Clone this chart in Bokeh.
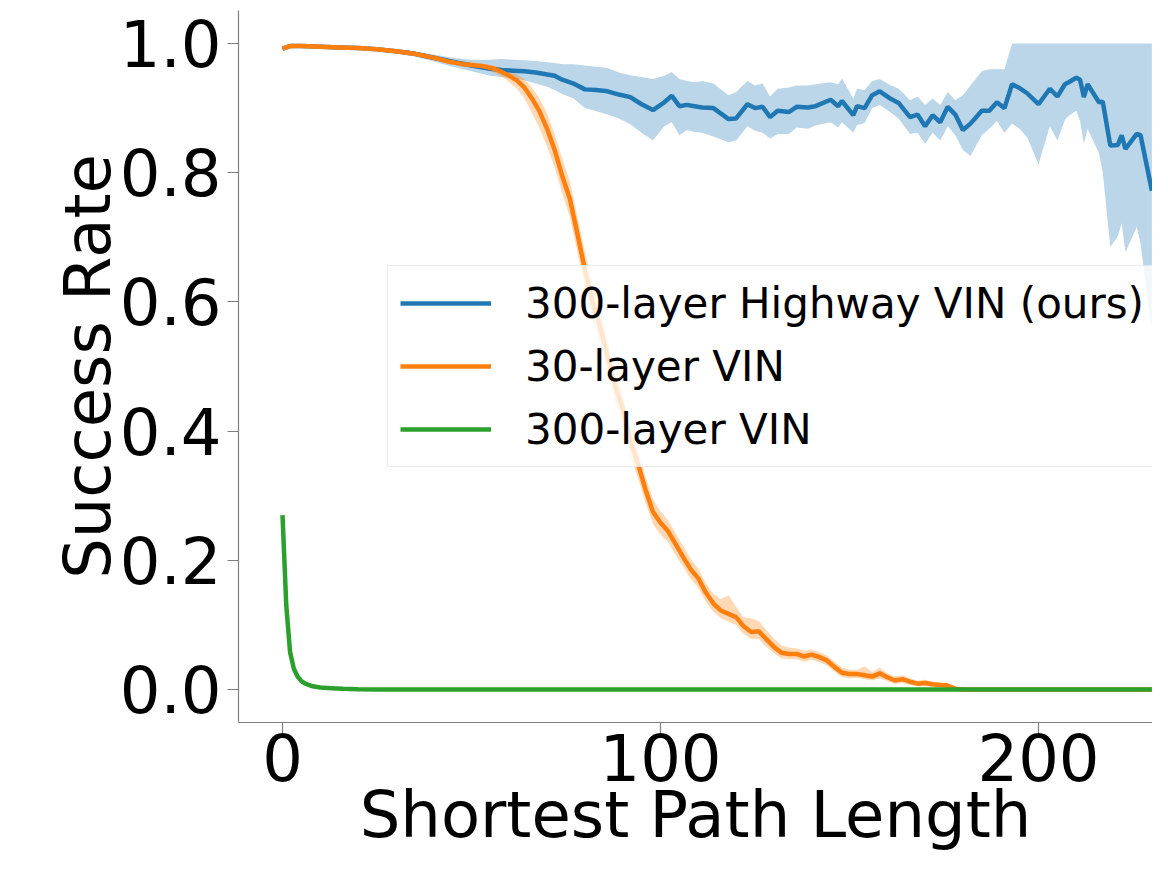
from bokeh.plotting import figure
from bokeh.models import Range1d, FixedTicker, Legend, LegendItem, PrintfTickFormatter
from bokeh.embed import file_html
from bokeh.resources import INLINE

# ---- data ----
blue_x = [0, 2, 5, 10, 15, 20, 25, 30, 35, 40, 45, 50, 55, 58, 61, 64, 67, 70, 72, 74,
          77, 80, 83, 86, 89, 92, 95, 98, 101, 103, 105, 107, 109, 111, 114, 118, 120, 123, 125, 127,
          129, 131, 134, 136, 139, 141, 145, 147, 148, 151, 152, 154, 156, 158, 161, 163, 166, 168, 170, 172,
          174, 176, 178, 180, 182, 185, 187, 189, 191, 193, 195, 197, 200, 203, 205, 207, 208, 210, 211, 212,
          213, 216, 217, 219, 221, 222, 223, 226, 227, 230]
blue_y = [0.992, 0.996, 0.996, 0.995, 0.994, 0.993, 0.991, 0.988, 0.984, 0.978, 0.972, 0.966, 0.961, 0.959, 0.958, 0.957, 0.955, 0.952, 0.950, 0.944,
          0.938, 0.929, 0.928, 0.926, 0.921, 0.917, 0.906, 0.897, 0.909, 0.919, 0.903, 0.905, 0.903, 0.901, 0.900, 0.883, 0.884, 0.906, 0.900, 0.902,
          0.886, 0.896, 0.894, 0.902, 0.901, 0.903, 0.913, 0.903, 0.911, 0.889, 0.903, 0.900, 0.920, 0.926, 0.914, 0.908, 0.886, 0.890, 0.872, 0.889,
          0.878, 0.902, 0.890, 0.866, 0.876, 0.896, 0.896, 0.909, 0.900, 0.937, 0.931, 0.923, 0.906, 0.930, 0.918, 0.937, 0.940, 0.947, 0.944, 0.917,
          0.937, 0.909, 0.910, 0.842, 0.843, 0.858, 0.837, 0.860, 0.858, 0.772]
blue_hi = [0.994, 0.998, 0.998, 0.997, 0.996, 0.995, 0.993, 0.991, 0.988, 0.983, 0.978, 0.975, 0.975, 0.976, 0.975, 0.974, 0.973, 0.971, 0.970, 0.968,
           0.968, 0.966, 0.964, 0.962, 0.955, 0.951, 0.948, 0.945, 0.950, 0.956, 0.945, 0.942, 0.940, 0.942, 0.938, 0.920, 0.925, 0.942, 0.935, 0.938,
           0.918, 0.930, 0.932, 0.935, 0.935, 0.937, 0.940, 0.937, 0.946, 0.915, 0.930, 0.928, 0.942, 0.945, 0.935, 0.930, 0.912, 0.918, 0.905, 0.915,
           0.905, 0.925, 0.912, 0.920, 0.935, 0.957, 0.960, 0.960, 0.960, 1.0, 1.0, 1.0, 1.0, 1.0, 1.0, 1.0, 1.0, 1.0, 1.0, 1.0,
           1.0, 1.0, 1.0, 1.0, 1.0, 1.0, 1.0, 1.0, 1.0, 1.0]
blue_lo = [0.990, 0.994, 0.994, 0.993, 0.992, 0.991, 0.989, 0.985, 0.980, 0.972, 0.964, 0.957, 0.950, 0.948, 0.946, 0.943, 0.938, 0.933, 0.928, 0.922,
           0.915, 0.900, 0.895, 0.890, 0.884, 0.875, 0.862, 0.850, 0.872, 0.878, 0.858, 0.866, 0.863, 0.862, 0.856, 0.847, 0.850, 0.872, 0.865, 0.862,
           0.853, 0.860, 0.860, 0.870, 0.868, 0.873, 0.878, 0.870, 0.878, 0.862, 0.874, 0.877, 0.900, 0.905, 0.893, 0.884, 0.860, 0.862, 0.845, 0.862,
           0.850, 0.872, 0.858, 0.835, 0.826, 0.858, 0.868, 0.880, 0.862, 0.876, 0.868, 0.855, 0.813, 0.872, 0.850, 0.882, 0.888, 0.896, 0.880, 0.845,
           0.868, 0.830, 0.800, 0.685, 0.702, 0.722, 0.677, 0.716, 0.690, 0.556]

orange_x = [0, 2, 5, 10, 15, 20, 25, 30, 35, 40, 44, 48, 53, 56, 58, 60, 62, 64, 66, 68,
            70, 72, 74, 76, 78, 80, 82, 84, 86, 88, 90, 92, 94, 96, 98, 100, 102, 104, 106, 108,
            110, 112, 114, 116, 118, 120, 122, 124, 126, 128, 130, 132, 134, 136, 138, 140, 142, 144, 146, 148,
            150, 152, 154, 156, 158, 160, 162, 164, 166, 168, 170, 172, 174, 176, 178, 180, 230]
orange_y = [0.992, 0.996, 0.996, 0.995, 0.994, 0.993, 0.991, 0.988, 0.984, 0.978, 0.972, 0.968, 0.965, 0.961, 0.956, 0.950, 0.943, 0.932, 0.915, 0.895,
            0.868, 0.835, 0.795, 0.760, 0.706, 0.650, 0.600, 0.562, 0.515, 0.470, 0.435, 0.385, 0.350, 0.310, 0.275, 0.258, 0.245, 0.225, 0.205, 0.186,
            0.172, 0.150, 0.133, 0.122, 0.117, 0.112, 0.098, 0.089, 0.090, 0.078, 0.066, 0.057, 0.055, 0.055, 0.051, 0.054, 0.050, 0.045, 0.035, 0.026,
            0.024, 0.024, 0.022, 0.020, 0.025, 0.019, 0.014, 0.016, 0.012, 0.009, 0.010, 0.008, 0.007, 0.006, 0.001, 0.0, 0.0]
orange_hi = [0.994, 0.998, 0.998, 0.997, 0.996, 0.995, 0.993, 0.990, 0.987, 0.981, 0.975, 0.972, 0.969, 0.966, 0.962, 0.958, 0.952, 0.945, 0.932, 0.915,
             0.892, 0.860, 0.822, 0.787, 0.733, 0.677, 0.628, 0.588, 0.540, 0.495, 0.458, 0.408, 0.372, 0.330, 0.295, 0.276, 0.262, 0.242, 0.222, 0.202,
             0.187, 0.165, 0.148, 0.140, 0.146, 0.128, 0.112, 0.110, 0.106, 0.092, 0.079, 0.068, 0.065, 0.064, 0.060, 0.062, 0.058, 0.053, 0.043, 0.034,
             0.031, 0.030, 0.036, 0.027, 0.034, 0.025, 0.020, 0.022, 0.017, 0.014, 0.015, 0.012, 0.011, 0.009, 0.003, 0.0, 0.0]
orange_lo = [0.990, 0.994, 0.994, 0.993, 0.992, 0.991, 0.989, 0.986, 0.981, 0.975, 0.968, 0.964, 0.960, 0.955, 0.949, 0.940, 0.930, 0.915, 0.893, 0.868,
             0.840, 0.808, 0.768, 0.732, 0.678, 0.622, 0.572, 0.535, 0.490, 0.446, 0.412, 0.362, 0.328, 0.290, 0.256, 0.240, 0.228, 0.208, 0.190, 0.171,
             0.157, 0.136, 0.120, 0.110, 0.105, 0.100, 0.086, 0.078, 0.078, 0.066, 0.056, 0.048, 0.047, 0.047, 0.043, 0.046, 0.042, 0.037, 0.028, 0.019,
             0.017, 0.018, 0.016, 0.014, 0.017, 0.013, 0.009, 0.010, 0.007, 0.005, 0.005, 0.004, 0.003, 0.002, 0.000, 0.0, 0.0]

green_x = [0, 1, 2, 3, 4, 5, 6, 8, 10, 13, 16, 20, 25, 230]
green_y = [0.270, 0.130, 0.058, 0.032, 0.020, 0.013, 0.009, 0.005, 0.003, 0.002, 0.001, 0.0005, 0.0, 0.0]

labels = ["300-layer Highway VIN (ours)", "30-layer VIN", "300-layer VIN"]
x_ticks = [0, 100, 200]
y_ticks = [0.0, 0.2, 0.4, 0.6, 0.8, 1.0]

BLUE, ORANGE, GREEN = "#1f77b4", "#ff7f0e", "#2ca02c"
FONT = "DejaVu Sans"

p = figure(width=1152, height=855, output_backend="svg", toolbar_location=None,
           x_range=Range1d(-11.64, 230.16), y_range=Range1d(-0.0511, 1.0511),
           min_border_left=238, min_border_right=0, min_border_top=10, min_border_bottom=133)
p.outline_line_color = None
p.grid.visible = False
p.background_fill_color = "white"
p.border_fill_color = "white"

p.varea(x=blue_x, y1=blue_lo, y2=blue_hi, fill_color=BLUE, fill_alpha=0.3)
p.varea(x=orange_x, y1=orange_lo, y2=orange_hi, fill_color=ORANGE, fill_alpha=0.3)
r1 = p.line(blue_x, blue_y, line_color=BLUE, line_width=4.5)
r2 = p.line(orange_x, orange_y, line_color=ORANGE, line_width=4.5)
r3 = p.line(green_x, green_y, line_color=GREEN, line_width=4.5)

for ax in (p.xaxis[0], p.yaxis[0]):
    ax.axis_line_color = "#808080"
    ax.axis_line_width = 1.2
    ax.major_tick_line_color = "#808080"
    ax.major_tick_line_width = 1.2
    ax.major_tick_out = 11
    ax.major_tick_in = 0
    ax.minor_tick_out = 0
    ax.minor_tick_in = 0
    ax.major_label_text_font = FONT
    ax.major_label_text_font_size = "64px"
    ax.major_label_text_color = "black"
    ax.axis_label_text_font = FONT
    ax.axis_label_text_font_size = "64px"
    ax.axis_label_text_font_style = "normal"
    ax.axis_label_text_color = "black"

p.xaxis.ticker = FixedTicker(ticks=x_ticks)
p.yaxis.ticker = FixedTicker(ticks=y_ticks)
p.yaxis.formatter = PrintfTickFormatter(format="%.1f")
p.xaxis.axis_label = "Shortest Path Length"
p.yaxis.axis_label = "Success Rate"
p.xaxis.major_label_standoff = 0
p.xaxis.axis_label_standoff = -6
p.yaxis.major_label_standoff = 6
p.yaxis.axis_label_standoff = -8

legend = Legend(items=[LegendItem(label=labels[0], renderers=[r1]),
                       LegendItem(label=labels[1], renderers=[r2]),
                       LegendItem(label=labels[2], renderers=[r3])],
                location=(149, 255))
legend.label_text_font = FONT
legend.label_text_font_size = "42px"
legend.label_text_color = "black"
legend.glyph_width = 91
legend.glyph_height = 50
legend.label_height = 50
legend.label_standoff = 34
legend.spacing = 13
legend.padding = 12
legend.margin = 0
legend.background_fill_color = "white"
legend.background_fill_alpha = 0.8
legend.border_line_color = "#d9d9d9"
legend.border_line_width = 1
p.add_layout(legend)

open("out.html", "w").write(file_html(p, INLINE))
